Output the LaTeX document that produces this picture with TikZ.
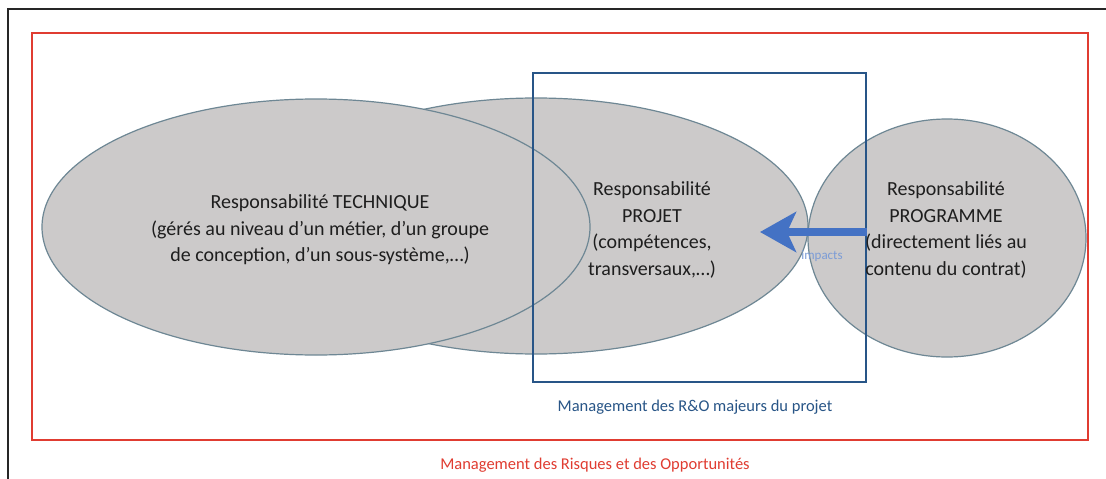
\documentclass[tikz,border=0pt]{standalone}
\usepackage{fontspec}
\setmainfont{Carlito}
\usetikzlibrary{arrows.meta}
\definecolor{ellfill}{RGB}{204,202,202}
\definecolor{elldraw}{RGB}{110,135,148}
\definecolor{rectblue}{RGB}{40,85,135}
\definecolor{arrblue}{RGB}{68,114,196}
\definecolor{framered}{RGB}{224,60,49}
\definecolor{txt}{RGB}{30,30,30}
\tikzset{
  bubble/.style={fill=ellfill, draw=elldraw, line width=1.2pt},
  bubtext/.style={align=center, text=txt, font=\fontsize{20}{26.5}\selectfont}
}
\begin{document}
\begin{tikzpicture}[x=1pt,y=-1pt]
\useasboundingbox (0,0) rectangle (1106,479);
\fill[white] (0,0) rectangle (1106,479);
% outer black frame (partial)
\draw[line width=2pt, black!85] (8,479) -- (8,9) -- (1106,9);
% red frame
\draw[framered, line width=2.2pt] (32,33) rectangle (1088,440);
% ellipses
\draw[bubble] (536,226) ellipse [x radius=272, y radius=128];
\draw[bubble] (316,227) ellipse [x radius=274, y radius=128];
\draw[bubble] (947,238) ellipse [x radius=139, y radius=119];
% project box
\node[draw=rectblue, line width=1.8pt, minimum width=333pt, minimum height=309pt, inner sep=0pt] (box) at (699.5,227.5) {};
% texts
\node[bubtext] (tech) at (320,230) {Responsabilité TECHNIQUE\\(gérés au niveau d’un métier, d’un groupe\\de conception, d’un sous-système,…)};
\node[bubtext] (proj) at (652,230) {Responsabilité\\PROJET\\(compétences,\\transversaux,…)};
\node[bubtext] (prog) at (946,230) {Responsabilité\\PROGRAMME\\(directement liés au\\contenu du contrat)};
% arrow
\coordinate (arrS) at (box.east |- 0,232);
\coordinate (arrE) at (760,232);
\draw[arrblue, line width=8pt, -{Stealth[length=36pt, width=40pt, inset=9pt]}] (arrS) -- (arrE);
\node[text=arrblue!70, font=\fontsize{13}{14}\selectfont] (imp) at (822,256) {impacts};
% captions
\node[text=rectblue, font=\fontsize{16.5}{18}\selectfont] (cap1) at (695,407) {Management des R\&O majeurs du projet};
\node[text=framered, font=\fontsize{16.5}{18}\selectfont] (cap2) at (595,465) {Management des Risques et des Opportunités};
\end{tikzpicture}
\end{document}
